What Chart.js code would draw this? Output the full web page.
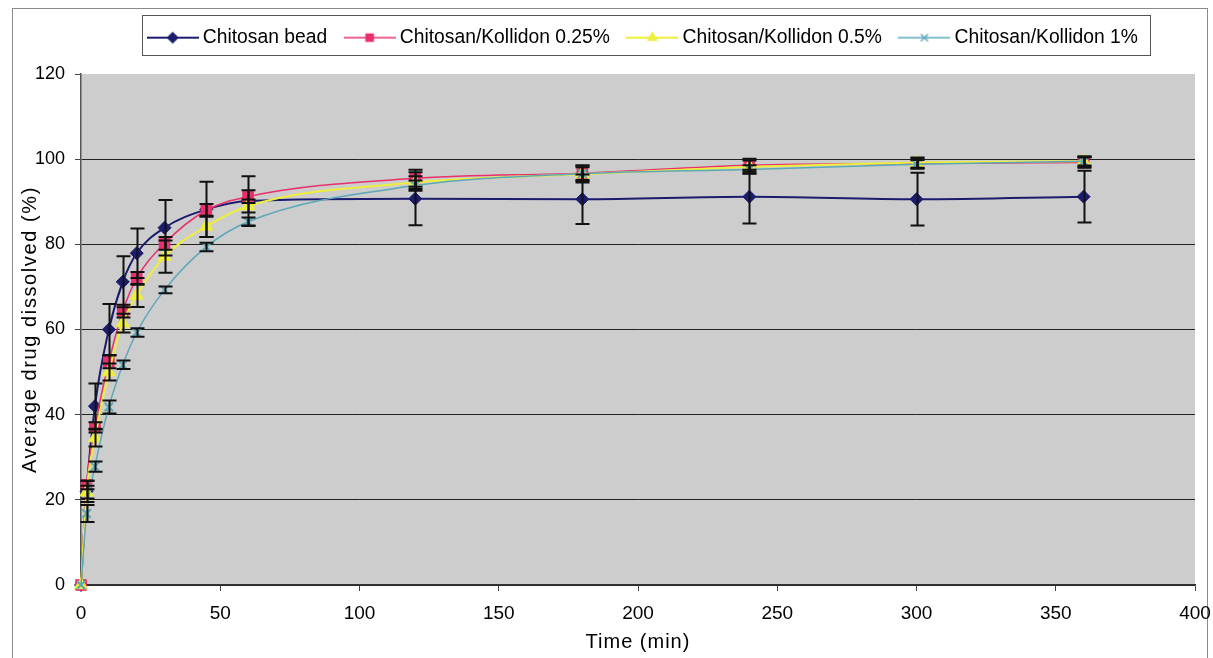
<!DOCTYPE html>
<html>
<head>
<meta charset="utf-8">
<script src="https://cdn.jsdelivr.net/npm/chart.js@4.4.1/dist/chart.umd.min.js"></script>
<style>
    html, body { margin: 0; padding: 0; background: #fff; }
    canvas { display: block; }
</style>
</head>
<body>
<canvas id="dissolutionChart" width="1213" height="658"></canvas>
<script>
var times = [0, 2, 5, 10, 15, 20, 30, 45, 60, 120, 180, 240, 300, 360];

var beadValues = [0, 22, 42, 60, 71.2, 77.9, 83.9, 88.2, 90.2, 90.7, 90.6, 91.2, 90.6, 91.2];
var beadErrors = [0, 2.5, 5.3, 6, 6, 5.8, 6.5, 6.5, 5.8, 6.2, 5.8, 6.3, 6.2, 6.1];

var kol025Values = [0, 23.5, 37, 52.4, 64.3, 72, 80.2, 88, 91.2, 95.5, 96.7, 98.6, 99, 99.2];
var kol025Errors = [0, 1, 1.2, 1.5, 1.5, 1.5, 1.5, 1.5, 1.5, 2, 1.8, 1.5, 1.2, 1.2];

var kol05Values = [0, 21.8, 34.5, 50, 61.5, 68, 77.1, 84.2, 89, 94.5, 96.5, 98.2, 99.2, 99.5];
var kol05Errors = [0, 1.5, 2, 2, 2.2, 2.7, 3.8, 2.5, 1.5, 1.5, 2, 1.5, 1.2, 1.2];

var kol1Values = [0, 16.8, 27.8, 41.8, 51.7, 59.3, 69.3, 79.4, 85.3, 93.8, 96.6, 97.6, 98.8, 99.5];
var kol1Errors = [0, 2, 1.2, 1.5, 1, 1, 0.8, 1, 1, 1.2, 1.5, 1, 1, 1];

var seriesNames = ['Chitosan bead', 'Chitosan/Kollidon 0.25%', 'Chitosan/Kollidon 0.5%', 'Chitosan/Kollidon 1%'];
var xTickValues = [0, 50, 100, 150, 200, 250, 300, 350, 400];
var yTickValues = [0, 20, 40, 60, 80, 100, 120];

var FONT = "'Liberation Sans', Arial, sans-serif";
var LEGEND_SHIFT = 7;

function toPoints(values) {
    return times.map(function(t, i) { return { x: t, y: values[i] }; });
}

// little line + marker picture for the legend, like Excel
function legendSymbol(color, style, radius, lineWidth) {
    var c = document.createElement('canvas');
    c.width = 52;
    c.height = 18;
    var g = c.getContext('2d');
    g.strokeStyle = color;
    g.lineWidth = lineWidth;
    g.beginPath();
    g.moveTo(0, 9);
    g.lineTo(52, 9);
    g.stroke();
    g.fillStyle = color;
    g.lineWidth = 1.5;
    Chart.helpers.drawPoint(g, { pointStyle: style, radius: radius, rotation: 0, borderWidth: 1.5 }, 26, 9);
    return c;
}

var plotBackground = {
    id: 'plotBackground',
    beforeDraw: function(chart) {
        var ctx = chart.ctx, a = chart.chartArea;
        ctx.save();
        ctx.fillStyle = '#fff';
        ctx.fillRect(0, 0, chart.width, chart.height);
        ctx.strokeStyle = '#8a8a8a';
        ctx.lineWidth = 1;
        ctx.strokeRect(12.5, 8.5, 1195, 670);
        ctx.fillStyle = '#cdcdcd';
        ctx.fillRect(a.left, a.top, a.right - a.left, a.bottom - a.top);
        ctx.restore();
    }
};

var errorBars = {
    id: 'errorBars',
    afterDatasetsDraw: function(chart) {
        var ctx = chart.ctx, xs = chart.scales.x, ys = chart.scales.y;
        ctx.save();
        ctx.strokeStyle = '#111';
        ctx.lineWidth = 2;
        chart.data.datasets.forEach(function(ds) {
            ds.errors.forEach(function(e, j) {
                if (!e) return;
                var px = Math.round(xs.getPixelForValue(ds.data[j].x)) + 0.5;
                var top = ys.getPixelForValue(ds.data[j].y + e);
                var bot = ys.getPixelForValue(ds.data[j].y - e);
                ctx.beginPath();
                ctx.moveTo(px, top);
                ctx.lineTo(px, bot);
                ctx.moveTo(px - 7, top);
                ctx.lineTo(px + 7, top);
                ctx.moveTo(px - 7, bot);
                ctx.lineTo(px + 7, bot);
                ctx.stroke();
            });
        });
        ctx.restore();
    }
};

var legendFrame = {
    id: 'legendFrame',
    afterInit: function(chart) {
        // keep legend text near the top but leave room down to the plot area
        var lg = chart.legend;
        var fit = lg.fit;
        var draw = lg.draw;
        lg.fit = function() {
            fit.apply(this, arguments);
            this.height = 68;
        };
        lg.draw = function() {
            this.ctx.save();
            this.ctx.translate(LEGEND_SHIFT, 0);
            draw.apply(this, arguments);
            this.ctx.restore();
        };
    },
    afterLayout: function(chart) {
        var spacing = { x: '1px', y: '1.6px' };
        ['x', 'y'].forEach(function(id) {
            var s = chart.scales[id];
            if (s._spaced) return;
            var draw = s.drawTitle;
            s.drawTitle = function() {
                this.ctx.save();
                this.ctx.letterSpacing = spacing[id];
                draw.apply(this, arguments);
                this.ctx.restore();
            };
            s._spaced = true;
        });
    },
    afterDraw: function(chart) {
        var boxes = chart.legend.legendHitBoxes;
        if (!boxes || !boxes.length) return;
        var first = boxes[0], last = boxes[boxes.length - 1];
        var left = Math.round(first.left + LEGEND_SHIFT - 10) + 0.5;
        var right = Math.round(last.left + last.width + LEGEND_SHIFT + 12) + 0.5;
        var ctx = chart.ctx;
        ctx.save();
        ctx.strokeStyle = '#555';
        ctx.lineWidth = 1;
        ctx.strokeRect(left, 15.5, right - left, 40);
        ctx.restore();
    }
};

var colors = ['#1c1c6e', '#e8306a', '#eeee3c', '#5ca8b8'];
var styles = ['rectRot', 'rect', 'triangle', 'crossRot'];
var radii = [6.5, 7.5, 7.5, 6];
var widths = [2, 1.5, 2, 1.5];
var allValues = [beadValues, kol025Values, kol05Values, kol1Values];
var allErrors = [beadErrors, kol025Errors, kol05Errors, kol1Errors];

var symbols = colors.map(function(c, i) {
    return legendSymbol(c, styles[i], 5, widths[i]);
});

var datasets = seriesNames.map(function(name, i) {
    return {
        label: name,
        data: toPoints(allValues[i]),
        errors: allErrors[i],
        borderColor: colors[i],
        backgroundColor: colors[i],
        borderWidth: widths[i],
        pointStyle: styles[i],
        pointRadius: radii[i],
        pointBorderWidth: i === 3 ? 2 : 1,
        pointBorderColor: colors[i],
        pointBackgroundColor: colors[i],
        cubicInterpolationMode: 'monotone',
        clip: false,
        order: 4 - i
    };
});

var ctx = document.getElementById('dissolutionChart').getContext('2d');
var dissolutionChart = new Chart(ctx, {
    type: 'line',
    data: { datasets: datasets },
    plugins: [plotBackground, errorBars, legendFrame],
    options: {
        responsive: false,
        animation: false,
        layout: { padding: { left: 14, right: 18, top: 6, bottom: 0 } },
        plugins: {
            tooltip: { enabled: false },
            legend: {
                position: 'top',
                fullSize: false,
                labels: {
                    usePointStyle: true,
                    pointStyleWidth: 41,
                    padding: 22,
                    color: '#000',
                    font: { family: FONT, size: 19.3 },
                    generateLabels: function(chart) {
                        return chart.data.datasets.map(function(ds, i) {
                            return {
                                text: ds.label,
                                pointStyle: symbols[i],
                                fillStyle: colors[i],
                                strokeStyle: colors[i],
                                lineWidth: 0,
                                hidden: false,
                                datasetIndex: i,
                                fontColor: '#000'
                            };
                        });
                    }
                }
            }
        },
        scales: {
            x: {
                type: 'linear',
                min: 0,
                max: 400,
                afterFit: function(scale) {
                    scale.height = 73;
                    scale.paddingRight = 0;
                    scale.paddingLeft = 0;
                },
                afterBuildTicks: function(scale) {
                    scale.ticks = xTickValues.map(function(v) { return { value: v }; });
                },
                ticks: { color: '#000', padding: 11, font: { family: FONT, size: 19 } },
                grid: { drawOnChartArea: false, drawTicks: true, tickLength: 6, color: '#444' },
                border: { display: true, color: '#333', width: 1.5 },
                title: {
                    display: true,
                    text: 'Time (min)',
                    color: '#000',
                    font: { family: FONT, size: 20 },
                    padding: { top: 0, bottom: 4 }
                }
            },
            y: {
                type: 'linear',
                min: 0,
                max: 120,
                afterFit: function(scale) { scale.width = 67; },
                afterBuildTicks: function(scale) {
                    scale.ticks = yTickValues.map(function(v) { return { value: v }; });
                },
                ticks: { color: '#000', padding: 10, font: { family: FONT, size: 18 } },
                grid: {
                    drawTicks: true,
                    tickLength: 6,
                    tickColor: '#444',
                    color: function(c) { return c.tick && c.tick.value === 120 ? 'rgba(0,0,0,0)' : '#222'; }
                },
                border: { display: true, color: '#555', width: 1.5 },
                title: {
                    display: true,
                    text: 'Average drug dissolved (%)',
                    color: '#000',
                    font: { family: FONT, size: 20 },
                    padding: { top: 4, bottom: 0 }
                }
            }
        }
    }
});
</script>
</body>
</html>
